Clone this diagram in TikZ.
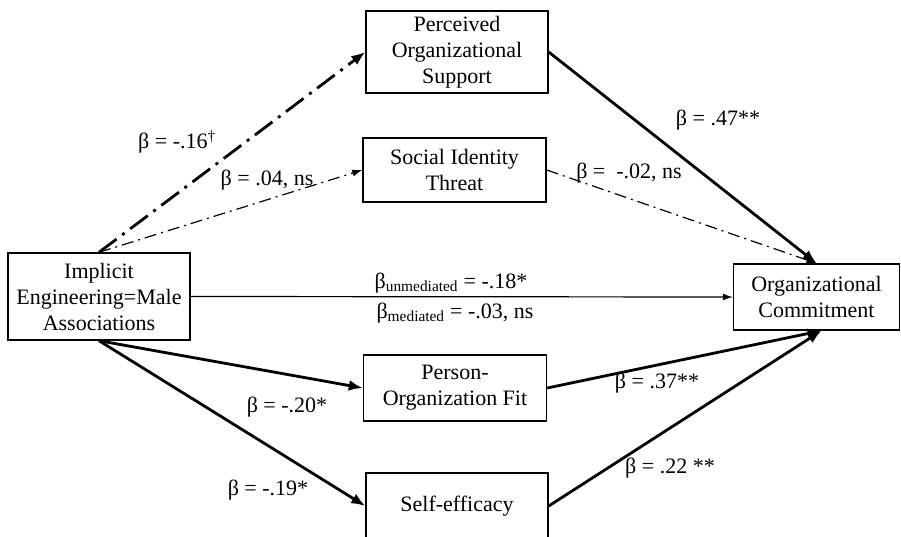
\documentclass[tikz,border=0pt]{standalone}
\usepackage{fontspec}
\setmainfont{Liberation Serif}
\usetikzlibrary{arrows.meta}
\begin{document}
\begin{tikzpicture}[x=1pt, y=-1pt,
        box/.style={draw, line width=1.4pt, align=center, inner sep=0pt, font=\fontsize{22}{26}\selectfont},
        lbl/.style={inner sep=0pt, font=\fontsize{22}{26}\selectfont},
        solidthick/.style={line width=2.8pt, -{Latex[length=14pt,width=11pt]}},
        solidthin/.style={line width=1.2pt, -{Latex[length=10pt,width=7pt]}},
        dashthick/.style={line width=2.8pt, dash pattern=on 22pt off 7pt on 3pt off 7pt, -{Latex[length=14pt,width=11pt]}},
        dashthin/.style={line width=1.2pt, dash pattern=on 12pt off 5pt on 2pt off 5pt, -{Latex[length=10pt,width=7pt]}}]
        \useasboundingbox (0, 0) rectangle (901, 537);
        \clip (0, 0) rectangle (901, 537);
        \node [box, minimum width=182pt, minimum height=82pt] at (457, 52) (pos) {Perceived\\Organizational\\Support};
        \node [box, minimum width=183pt, minimum height=64pt] at (454.5, 170) (sit) {Social Identity\\Threat};
        \node [box, minimum width=182pt, minimum height=87pt] at (99, 296.5) (iema) {Implicit\\Engineering=Male\\Associations};
        \node [box, minimum width=166pt, minimum height=66pt] at (816.5, 297) (oc) {Organizational\\Commitment};
        \node [box, minimum width=183pt, minimum height=66pt] at (455, 388) (pof) {Person-\\Organization Fit};
        \node [box, minimum width=182pt, minimum height=66pt] at (457, 506) (se) {Self-efficacy};
        
        \node [lbl] at (177, 142) (b16) {β = -.16\textsuperscript{†}};
        \node [lbl] at (267, 180) (b04) {β = .04, ns};
        \node [lbl] at (718, 120) (b47) {β = .47**};
        \node [lbl] at (629, 173) (b02) {β =\ \ -.02, ns};
        \node [lbl] at (451, 283) (bun) {β\textsubscript{unmediated} = -.18*};
        \node [lbl] at (455, 313) (bme) {β\textsubscript{mediated} = -.03, ns};
        \node [lbl] at (287, 407) (b20) {β = -.20*};
        \node [lbl] at (268, 490) (b19) {β = -.19*};
        \node [lbl] at (657, 383) (b37) {β = .37**};
        \node [lbl] at (670, 468) (b22) {β = .22 **};
        
        \draw [dashthick] (iema.north) -- (pos.west);
        \draw [dashthin] (iema.north) -- (sit.west);
        \draw [solidthick] (pos.east) -- (oc.north);
        \draw [dashthin] (sit.east) -- (oc.north);
        \draw [solidthin] (iema.east) -- (oc.west);
        \draw [solidthick] (iema.south) -- (pof.west);
        \draw [solidthick] (iema.south) -- (se.west);
        \draw [solidthick] (pof.east) -- ([xshift=5pt]oc.south);
        \draw [solidthick] (se.east) -- ([xshift=5pt]oc.south);
        \end{tikzpicture}
\end{document}
